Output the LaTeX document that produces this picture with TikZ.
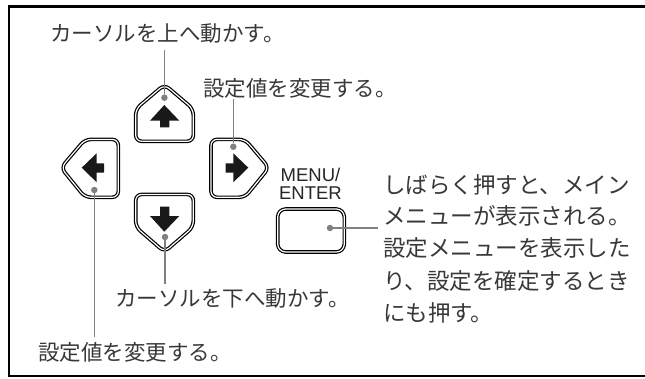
\documentclass[tikz,border=0pt]{standalone}
\usepackage{fontspec}
\setmainfont{Noto Sans CJK JP}[Scale=1]
\setsansfont{Liberation Sans}
\tikzset{
 x=1pt,y=-1pt,
 lbl/.style={inner sep=0pt,font=\fontsize{21.5pt}{22pt}\selectfont,text=black!78,anchor=west},
 lblb/.style={lbl,font=\fontsize{22.5pt}{22pt}\selectfont},
 leader/.style={draw=black!50,line width=1.5pt},
 dot/.style={circle,fill=black!50,inner sep=0pt,minimum size=6.5pt},
 btn/.style={draw=black,line width=1.2pt,rounded corners=6pt,double=white,double distance=1.2pt},
 arr/.style={fill=black!90,draw=none},
}
\begin{document}
\begin{tikzpicture}
\useasboundingbox (0,0) rectangle (645,378);
\fill[white] (0,0) rectangle (645,378);
\draw[line width=2.5pt] (9,6.5) rectangle (650,376);
% up
\draw[btn] (135.7,141.3)--(135.7,109)--(164.5,84.5)--(193.3,109)--(193.3,141.3)--cycle;
\fill[arr] (164.3,105)--(179.3,120.7)--(169.3,120.7)--(169.3,127.3)--(160,127.3)--(160,120.7)--(150,120.7)--cycle;
% down
\draw[btn] (135.7,194.4)--(193.3,194.4)--(193.3,227)--(164.5,252)--(135.7,227)--cycle;
\fill[arr] (164.3,231.7)--(179.3,216)--(169.3,216)--(169.3,206.7)--(160,206.7)--(160,216)--(150,216)--cycle;
% left
\draw[btn] (61,167.7)--(85,139.4)--(118.3,139.4)--(118.3,197.3)--(85,197.3)--cycle;
\fill[arr] (81.7,167.7)--(96.7,153.3)--(96.7,163.3)--(104,163.3)--(104,172.7)--(96.7,172.7)--(96.7,182.3)--cycle;
% right
\draw[btn] (269,167.7)--(245,139.4)--(211,139.4)--(211,197.3)--(245,197.3)--cycle;
\fill[arr] (248.3,167.7)--(233.3,153.3)--(233.3,163.3)--(225.7,163.3)--(225.7,172.7)--(233.3,172.7)--(233.3,182.3)--cycle;
% menu
\draw[btn,rounded corners=8pt] (277.7,209) rectangle (344.3,252);
\node[inner sep=0pt,align=center,font=\sffamily\fontsize{18.5pt}{18pt}\selectfont,text=black!85] (menu) at (310.5,184) {MENU/\\ENTER};
% labels
\node[lbl] (t1) at (50,33) {カーソルを上へ動かす。};
\node[lbl] (t2) at (203,88) {設定値を変更する。};
\node[lbl] (t3) at (115,298) {カーソルを下へ動かす。};
\node[lbl] (t4) at (38,352) {設定値を変更する。};
\node[lblb] (r1) at (383,185) {しばらく押すと、メイン};
\node[lblb] (r2) at (383,216) {メニューが表示される。};
\node[lblb] (r3) at (383,248) {設定メニューを表示した};
\node[lblb] (r4) at (383,281) {り、設定を確定するとき};
\node[lblb] (r5) at (383,313) {にも押す。};
% leaders
\node[dot] (d1) at (164.4,97.7) {};
\coordinate (c1) at (164.4,50);
\draw[leader] (c1)--(d1);
\node[dot] (d2) at (233.3,146.7) {};
\coordinate (c2) at (233.3,99.3);
\draw[leader] (c2)--(d2);
\node[dot] (d3) at (165,237) {};
\coordinate (c3) at (165,284);
\draw[leader] (c3)--(d3);
\node[dot] (d4) at (94.3,190) {};
\coordinate (c4) at (94.3,337);
\draw[leader] (c4)--(d4);
\node[dot] (d5) at (330,228) {};
\coordinate (c5) at (378,228);
\draw[leader] (d5)--(c5);
\end{tikzpicture}
\end{document}
